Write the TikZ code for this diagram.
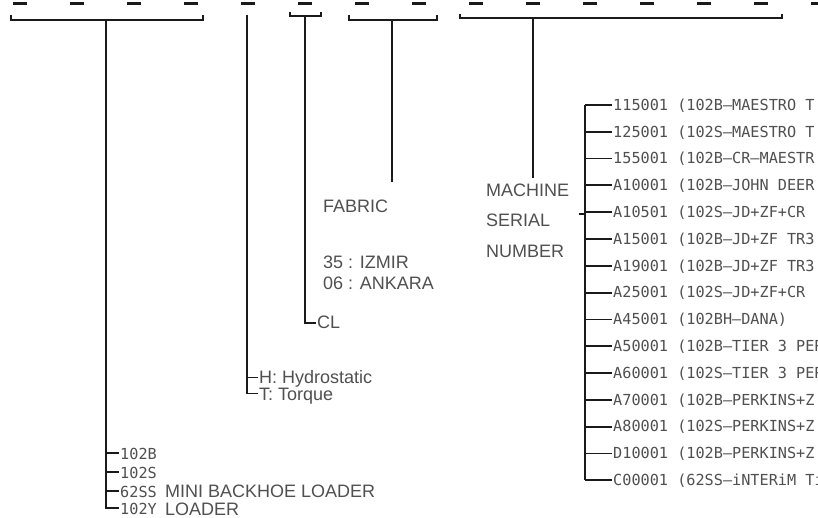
\documentclass[tikz,border=0pt]{standalone}
\usepackage{fontspec}
\setmainfont{Liberation Sans}
\newfontfamily\cadfont{DejaVu Sans Mono}
\definecolor{ink}{HTML}{1A1A1A}
\definecolor{txt}{HTML}{505050}
\begin{document}
\begin{tikzpicture}[x=1pt,y=-1pt,
  dashmark/.style={draw=ink,line width=2.2pt},
  brk/.style={draw=ink,line width=2.4pt,line join=miter},
  stem/.style={draw=ink,line width=2pt,line join=miter},
  thinstem/.style={draw=ink,line width=1.4pt,line join=miter},
  tick/.style={draw=ink,line width=1.8pt},
  cad/.style={anchor=base west,inner sep=1pt,text=txt,font=\cadfont\fontsize{15.2pt}{16pt}\selectfont},
  lab/.style={anchor=base west,inner sep=1pt,text=txt,font=\fontsize{18pt}{20pt}\selectfont}]
\useasboundingbox (0,0) rectangle (818,518);
\fill[white] (0,0) rectangle (818,518);
% top dashes
\foreach \k in {0,...,14}
  \draw[dashmark] ({20+57*\k-7},3.5) -- ({20+57*\k+7},3.5);
% bracket 1: model
\coordinate (b1a) at (11,15); \coordinate (b1b) at (11,20);
\coordinate (b1c) at (203,20); \coordinate (b1d) at (203,15);
\coordinate (b1s) at (106,20); \coordinate (b1e) at (106,508);
\draw[brk] (b1a) -- (b1b) -- (b1c) -- (b1d);
\node[cad] (m1) at (119,459) {102B};
\node[cad] (m2) at (119,478) {102S};
\node[cad] (m3) at (119,497) {62SS};
\node[lab] (m3b) at (164,497) {MINI BACKHOE LOADER};
\node[cad] (m4) at (119,514) {102Y};
\node[lab] (m4b) at (164,515) {LOADER};
\draw[stem] (b1s) -- (b1e) -- (m4.west |- 0,508);
\draw[tick] (106,453) -- (m1.west |- 0,453);
\draw[tick] (106,472) -- (m2.west |- 0,472);
\draw[tick] (106,491) -- (m3.west |- 0,491);
% item 2: transmission
\coordinate (b2s) at (247,15); \coordinate (b2e) at (247,393.5);
\node[lab] (h) at (258,383) {H: Hydrostatic};
\node[lab] (t) at (258,400.5) {T: Torque};
\draw[thinstem] (b2s) -- (b2e) -- (t.west |- 0,393.5);
\draw[tick] (247,377.5) -- (h.west |- 0,377.5);
% bracket 3: CL
\coordinate (b3a) at (290,12); \coordinate (b3b) at (290,16);
\coordinate (b3c) at (321,16); \coordinate (b3d) at (321,12);
\coordinate (b3s) at (305,16); \coordinate (b3e) at (305,323);
\draw[brk] (b3a) -- (b3b) -- (b3c) -- (b3d);
\node[lab] (cl) at (316,328) {CL};
\draw[stem] (b3s) -- (b3e) -- (cl.west |- 0,323);
% bracket 4: fabric
\coordinate (b4a) at (349,15); \coordinate (b4b) at (349,20);
\coordinate (b4c) at (437,20); \coordinate (b4d) at (437,15);
\coordinate (b4s) at (392,20); \coordinate (b4e) at (392,182);
\draw[brk] (b4a) -- (b4b) -- (b4c) -- (b4d);
\draw[stem] (b4s) -- (b4e);
\node[lab] (fab) at (322,213) {FABRIC};
\node[lab] (iz) at (322,269) {35 : IZMIR};
\node[lab] (an) at (322,290) {06 : ANKARA};
% bracket 5: serial number
\coordinate (b5a) at (460,14); \coordinate (b5b) at (460,18);
\coordinate (b5c) at (782,18); \coordinate (b5d) at (782,14);
\coordinate (b5s) at (533,18); \coordinate (b5e) at (533,178);
\draw[brk] (b5a) -- (b5b) -- (b5c) -- (b5d);
\draw[stem] (b5s) -- (b5e);
\node[lab] (mach) at (485,197) {MACHINE};
\node[lab] (ser) at (485,227) {SERIAL};
\node[lab] (num) at (485,258) {NUMBER};
% serial list
\coordinate (vtop) at (585,105); \coordinate (vbot) at (585,480.2);
\draw[draw=ink,line width=2.2pt] (vtop) -- (vbot);
\foreach \txt [count=\i from 0] in {
  {115001 (102B–MAESTRO T},
  {125001 (102S–MAESTRO T},
  {155001 (102B–CR–MAESTR},
  {A10001 (102B–JOHN DEER},
  {A10501 (102S–JD+ZF+CR},
  {A15001 (102B–JD+ZF TR3},
  {A19001 (102B–JD+ZF TR3},
  {A25001 (102S–JD+ZF+CR},
  {A45001 (102BH–DANA)},
  {A50001 (102B–TIER 3 PER},
  {A60001 (102S–TIER 3 PER},
  {A70001 (102B–PERKINS+Z},
  {A80001 (102S–PERKINS+Z},
  {D10001 (102B–PERKINS+Z},
  {C00001 (62SS–iNTERiM TiE}}{
  \pgfmathsetmacro{\yy}{105+26.8*\i}
  \node[cad] (row\i) at (612,\yy+5.3) {\txt};
  \draw[tick] (585,\yy) -- (row\i.west |- 0,\yy);
}
\coordinate (sertick) at (579,214.2);
\draw[tick] (sertick) -- (vtop |- sertick);
\end{tikzpicture}
\end{document}
